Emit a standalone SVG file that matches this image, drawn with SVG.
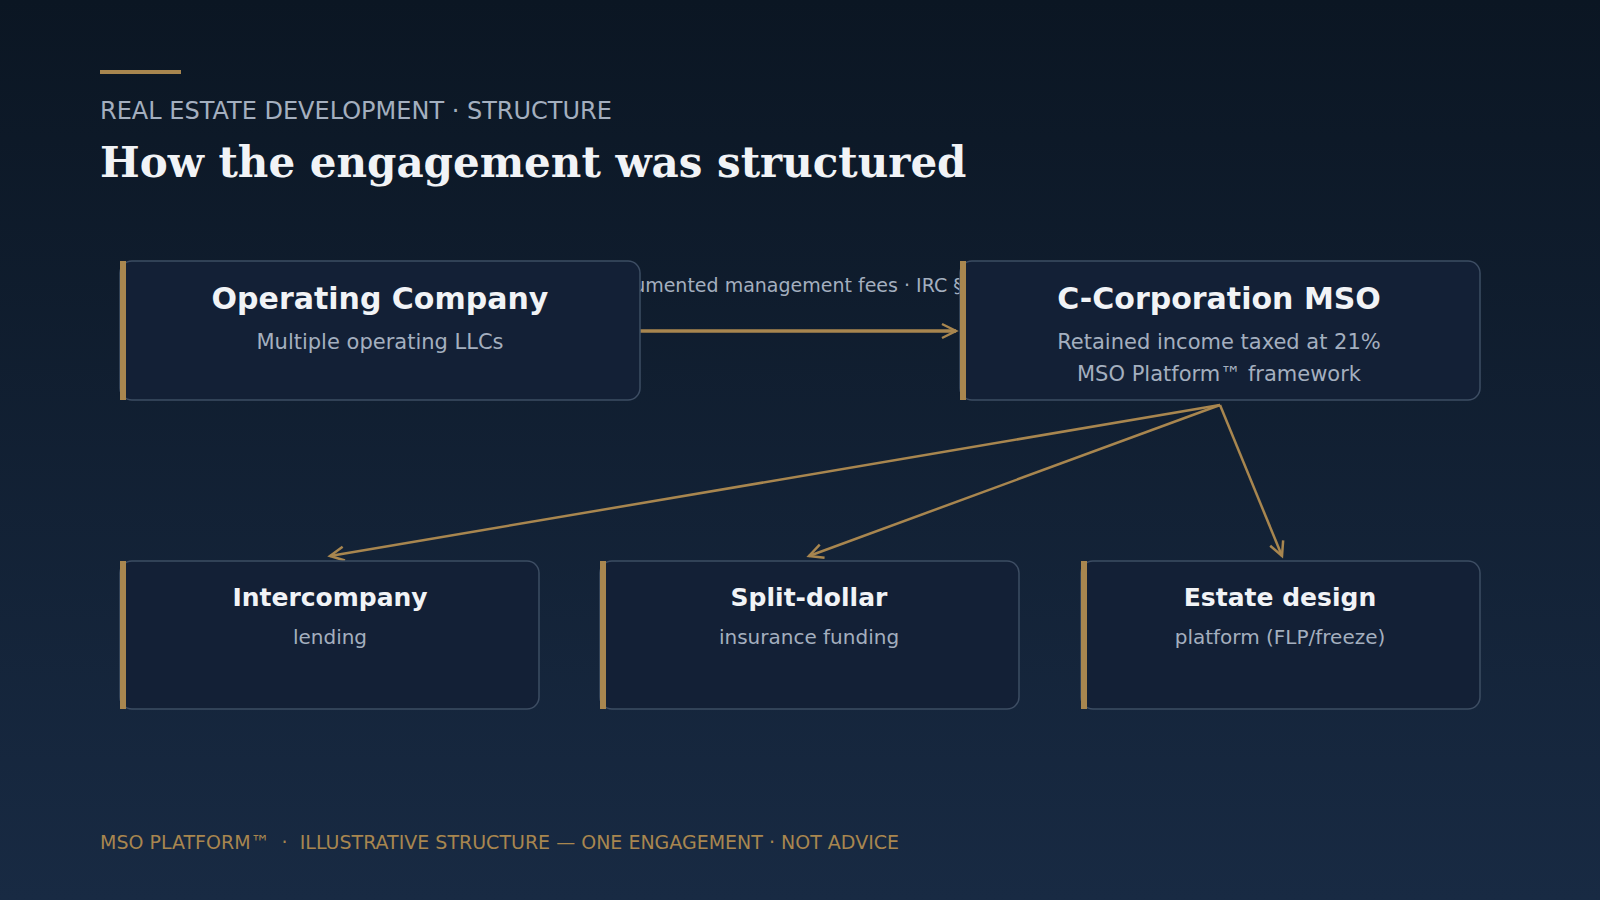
<svg xmlns="http://www.w3.org/2000/svg" width="1600" height="900" viewBox="0 0 1600 900">
<defs>
<linearGradient id="bg" x1="0" y1="0" x2="0" y2="1"><stop offset="0" stop-color="#0b1623"/><stop offset="1" stop-color="#182a43"/></linearGradient>
<marker id="ah" viewBox="0 0 20 20" refX="17" refY="10" markerWidth="20" markerHeight="20" markerUnits="userSpaceOnUse" orient="auto"><path d="M3,3 L17,10 L3,17" fill="none" stroke="#a8864f" stroke-width="2.5"/></marker>
<style>
.box{fill:#132036;stroke:#3d4d63;stroke-width:1.5}
.bar{fill:#a8864f}
.t{font-family:"DejaVu Sans",sans-serif;font-weight:bold;fill:#f1f3f6;text-anchor:middle}
.s{font-family:"DejaVu Sans",sans-serif;fill:#a4afbf;text-anchor:middle}
.c{stroke:#a8864f;fill:none;marker-end:url(#ah)}
</style>
</defs>
<rect width="1600" height="900" fill="url(#bg)"/>
<rect x="100" y="70" width="81" height="4" fill="#a8864f"/>
<text x="100" y="119" font-family="DejaVu Sans,sans-serif" font-size="24" fill="#a4afbf">REAL ESTATE DEVELOPMENT · STRUCTURE</text>
<text x="100" y="177" font-family="DejaVu Serif,serif" font-weight="bold" font-size="42" fill="#f1f3f6">How the engagement was structured</text>
<g id="connectors">
<line class="c" x1="640" y1="331" x2="956" y2="331" stroke-width="3.5"/>
<text x="799" y="292" class="s" font-size="19">documented management fees · IRC §482</text>
<line class="c" x1="1220" y1="405" x2="330" y2="556" stroke-width="2.5"/>
<line class="c" x1="1220" y1="405" x2="809" y2="556" stroke-width="2.5"/>
<line class="c" x1="1220" y1="405" x2="1282" y2="556" stroke-width="2.5"/>
</g>
<g id="opco"><rect class="box" x="120" y="261" width="520" height="139" rx="12"/><rect class="bar" x="120" y="261" width="6" height="139"/>
<text class="t" x="380" y="309" font-size="30">Operating Company</text><text class="s" x="380" y="349" font-size="21">Multiple operating LLCs</text></g>
<g id="mso"><rect class="box" x="960" y="261" width="520" height="139" rx="12"/><rect class="bar" x="960" y="261" width="6" height="139"/>
<text class="t" x="1219" y="309" font-size="30">C-Corporation MSO</text><text class="s" x="1219" y="349" font-size="21">Retained income taxed at 21%</text><text class="s" x="1219" y="381" font-size="21">MSO Platform™ framework</text></g>
<g id="lending"><rect class="box" x="120" y="561" width="419" height="148" rx="12"/><rect class="bar" x="120" y="561" width="6" height="148"/>
<text class="t" x="330" y="606" font-size="25">Intercompany</text><text class="s" x="330" y="644" font-size="20">lending</text></g>
<g id="split"><rect class="box" x="600" y="561" width="419" height="148" rx="12"/><rect class="bar" x="600" y="561" width="6" height="148"/>
<text class="t" x="809" y="606" font-size="25">Split-dollar</text><text class="s" x="809" y="644" font-size="20">insurance funding</text></g>
<g id="estate"><rect class="box" x="1081" y="561" width="399" height="148" rx="12"/><rect class="bar" x="1081" y="561" width="6" height="148"/>
<text class="t" x="1280" y="606" font-size="25">Estate design</text><text class="s" x="1280" y="644" font-size="20">platform (FLP/freeze)</text></g>
<text x="100" y="849" font-family="DejaVu Sans,sans-serif" font-size="19" fill="#a8864f" xml:space="preserve">MSO PLATFORM™  ·  ILLUSTRATIVE STRUCTURE — ONE ENGAGEMENT · NOT ADVICE</text>
</svg>
